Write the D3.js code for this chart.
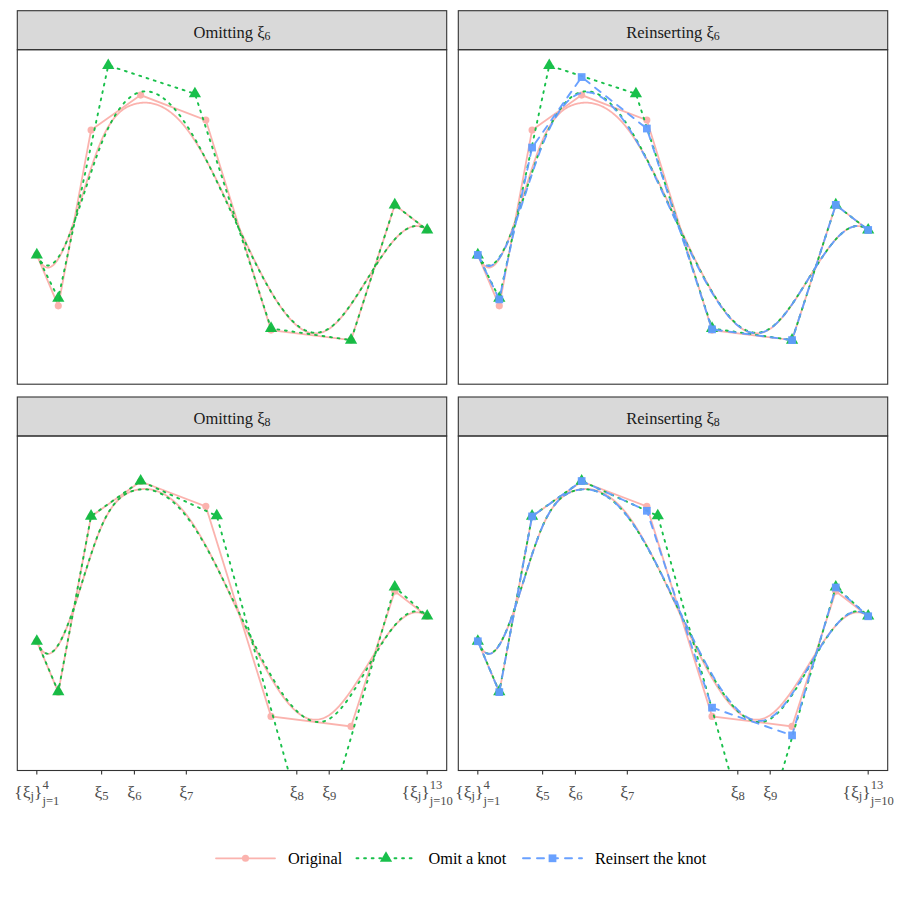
<!DOCTYPE html>
<html>
<head>
<meta charset="utf-8">
<script src="https://cdn.jsdelivr.net/npm/d3@7"></script>
<style>
  body { margin: 0; background: #fff; }
  text { font-family: "Liberation Serif", "DejaVu Serif", serif; }
</style>
</head>
<body>
<div id="chart"></div>
<script>
// interior knots (boundary knots 0 and 1 are repeated 4 times)
const knots = [0.166, 0.25, 0.383, 0.666, 0.749];

// control points
const xOriginal = [0, 0.055, 0.139, 0.266, 0.433, 0.600, 0.805, 0.917, 1];
const yOriginal = [-0.318, -0.744, 0.727, 1.020, 0.811, -0.947, -1.031, 0.101, -0.109];

const xOmit6 = [0, 0.055, 0.183, 0.405, 0.600, 0.805, 0.917, 1];
const yOmit6 = [-0.318, -0.681, 1.268, 1.031, -0.933, -1.031, 0.101, -0.109];
const yReins6 = [-0.318, -0.690, 0.581, 1.171, 0.740, -0.941, -1.031, 0.101, -0.109];

const xOmit8 = [0, 0.055, 0.139, 0.266, 0.461, 0.711, 0.917, 1];
const yOmit8 = [-0.318, -0.740, 0.729, 1.023, 0.732, -2.179, 0.136, -0.107];
const yReins8 = [-0.318, -0.744, 0.727, 1.023, 0.774, -0.874, -1.106, 0.132, -0.109];

const seriesNames = ["Original", "Omit a knot", "Reinsert the knot"];

// tick labels: n = normal, b = subscript, s = stacked sup/sub
const tickValues = [0, ...knots, 1];
const tickLabels = [
  [["n", "{ξ"], ["b", "j"], ["n", "}"], ["s", "4", "j=1"]],
  [["n", "ξ"], ["b", "5"]],
  [["n", "ξ"], ["b", "6"]],
  [["n", "ξ"], ["b", "7"]],
  [["n", "ξ"], ["b", "8"]],
  [["n", "ξ"], ["b", "9"]],
  [["n", "{ξ"], ["b", "j"], ["n", "}"], ["s", "13", "j=10"]]
];

const width = 900, height = 900;
const colors = ["#F8766D", "#00BA38", "#619CFF"];
const lwd = [1.8, 1.9, 1.9];
const dashes = [null, "1.9,5.7", "7,7"];
const opac = [0.55, 0.9, 0.95];
const symbols = [d3.symbolCircle, d3.symbolTriangle, d3.symbolSquare];
const symSize = [40, 65, 60];

function knotVec(omit) {
  const inner = knots.filter((k, i) => i + 5 !== omit);
  return [0, 0, 0, 0, ...inner, 1, 1, 1, 1];
}

function mk(s, xs, ys, omit) {
  return { s: s, pts: xs.map((x, i) => [x, ys[i]]), T: knotVec(omit) };
}

const panels = [
  { title: "Omitting", omit: 6, col: 0, row: 0 },
  { title: "Reinserting", omit: 6, col: 1, row: 0 },
  { title: "Omitting", omit: 8, col: 0, row: 1 },
  { title: "Reinserting", omit: 8, col: 1, row: 1 }
];
panels.forEach(p => {
  const orig = mk(0, xOriginal, yOriginal, 0);
  const om = p.omit === 6 ? mk(1, xOmit6, yOmit6, 6) : mk(1, xOmit8, yOmit8, 8);
  p.series = [orig, om];
  if (p.title === "Reinserting") {
    p.series.push(mk(2, xOriginal, p.omit === 6 ? yReins6 : yReins8, 0));
  }
});

// de Boor evaluation of a cubic B-spline
function deBoor(T, P, t) {
  const p = 3, n = P.length;
  let k = p;
  while (k < n - 1 && t >= T[k + 1]) k++;
  const d = [];
  for (let j = 0; j <= p; j++) d[j] = P[j + k - p].slice();
  for (let r = 1; r <= p; r++) {
    for (let j = p; j >= r; j--) {
      const den = T[j + 1 + k - r] - T[j + k - p];
      const a = den === 0 ? 0 : (t - T[j + k - p]) / den;
      d[j] = [(1 - a) * d[j - 1][0] + a * d[j][0], (1 - a) * d[j - 1][1] + a * d[j][1]];
    }
  }
  return d[p];
}
const tGrid = d3.range(0, 1.0001, 1 / 400);

const panelLeft = [17.3, 458.3], panelW = 429.4;
const stripTop = [10.7, 397], stripH = 39;
const panelTop = [49.7, 436], panelH = 334.5;

const x = d3.scaleLinear().domain([-0.05, 1.05]).range([0, panelW]);
const y = d3.scaleLinear().domain([-1.4, 1.4]).range([panelH, 0]);

const svg = d3.select("#chart").append("svg")
  .attr("width", width).attr("height", height);

function rich(parent, segs, size, fill) {
  const text = parent.append("text").attr("fill", fill);
  const small = size * 0.72;
  let cur = 0;
  segs.forEach(s => {
    if (s[0] === "n") {
      text.append("tspan").attr("dy", -cur).style("font-size", size + "px").text(s[1]);
      cur = 0;
    } else if (s[0] === "b") {
      const off = size * 0.15;
      text.append("tspan").attr("dy", off - cur).style("font-size", small + "px").text(s[1]);
      cur = off;
    } else {
      const up = -size * 0.46, dn = size * 0.4;
      const t1 = text.append("tspan").attr("dy", up - cur).style("font-size", small + "px").text(s[1]);
      const w1 = t1.node().getComputedTextLength();
      text.append("tspan").attr("dx", -w1).attr("dy", dn - up).style("font-size", small + "px").text(s[2]);
      cur = dn;
    }
  });
  const bb = text.node().getBBox();
  text.attr("x", -(bb.x + bb.width / 2));
  return text;
}

const defs = svg.append("defs");

panels.forEach((p, pi) => {
  const gx = panelLeft[p.col];
  // strip
  const strip = svg.append("g").attr("transform", `translate(${gx},${stripTop[p.row]})`);
  strip.append("rect").attr("width", panelW).attr("height", stripH)
    .attr("fill", "#D9D9D9").attr("stroke", "#333333").attr("stroke-width", 1.1);
  const st = strip.append("g").attr("transform", `translate(${panelW / 2},27)`);
  rich(st, [["n", p.title + " ξ"], ["b", String(p.omit)]], 16.5, "#1A1A1A");

  const g = svg.append("g").attr("transform", `translate(${gx},${panelTop[p.row]})`);
  defs.append("clipPath").attr("id", "clip" + pi)
    .append("rect").attr("width", panelW).attr("height", panelH);
  const body = g.append("g").attr("clip-path", `url(#clip${pi})`);

  const line = d3.line().x(d => x(d[0])).y(d => y(d[1]));
  p.series.forEach(se => {
    const sg = body.append("g").attr("opacity", opac[se.s]);
    const curve = tGrid.map(t => deBoor(se.T, se.pts, t));
    [se.pts, curve].forEach(arr => {
      sg.append("path").attr("d", line(arr))
        .attr("fill", "none").attr("stroke", colors[se.s])
        .attr("stroke-width", lwd[se.s])
        .attr("stroke-linecap", "round")
        .attr("stroke-dasharray", dashes[se.s]);
    });
    sg.selectAll("path.pt").data(se.pts).join("path")
      .attr("class", "pt")
      .attr("transform", d => `translate(${x(d[0])},${y(d[1])})`)
      .attr("d", d3.symbol().type(symbols[se.s]).size(symSize[se.s]))
      .attr("fill", colors[se.s]);
  });

  g.append("rect").attr("width", panelW).attr("height", panelH)
    .attr("fill", "none").attr("stroke", "#333333").attr("stroke-width", 1.1);

  if (p.row === 1) {
    const ax = g.append("g").attr("transform", `translate(0,${panelH})`);
    ax.selectAll("line").data(tickValues).join("line")
      .attr("x1", d => x(d)).attr("x2", d => x(d))
      .attr("y1", 0).attr("y2", 4)
      .attr("stroke", "#333333").attr("stroke-width", 1.1);
    tickValues.forEach((v, i) => {
      const lg = ax.append("g").attr("transform", `translate(${x(v)},27)`);
      rich(lg, tickLabels[i], 17.5, "#4D4D4D");
    });
  }
});

// legend
const legX = [216, 356.5, 523], legY = 858.3, keyW = 59;
seriesNames.forEach((name, i) => {
  const lg = svg.append("g").attr("transform", `translate(${legX[i]},${legY})`);
  const kg = lg.append("g").attr("opacity", opac[i]);
  kg.append("line").attr("x1", 0).attr("x2", keyW)
    .attr("stroke", colors[i]).attr("stroke-width", lwd[i])
    .attr("stroke-linecap", "round")
    .attr("stroke-dasharray", dashes[i]);
  kg.append("path").attr("transform", `translate(${keyW / 2},0)`)
    .attr("d", d3.symbol().type(symbols[i]).size(symSize[i]))
    .attr("fill", colors[i]);
  lg.append("text").attr("x", keyW + 13).attr("y", 5.5)
    .style("font-size", "16.3px").attr("fill", "#000").text(name);
});
</script>
</body>
</html>
